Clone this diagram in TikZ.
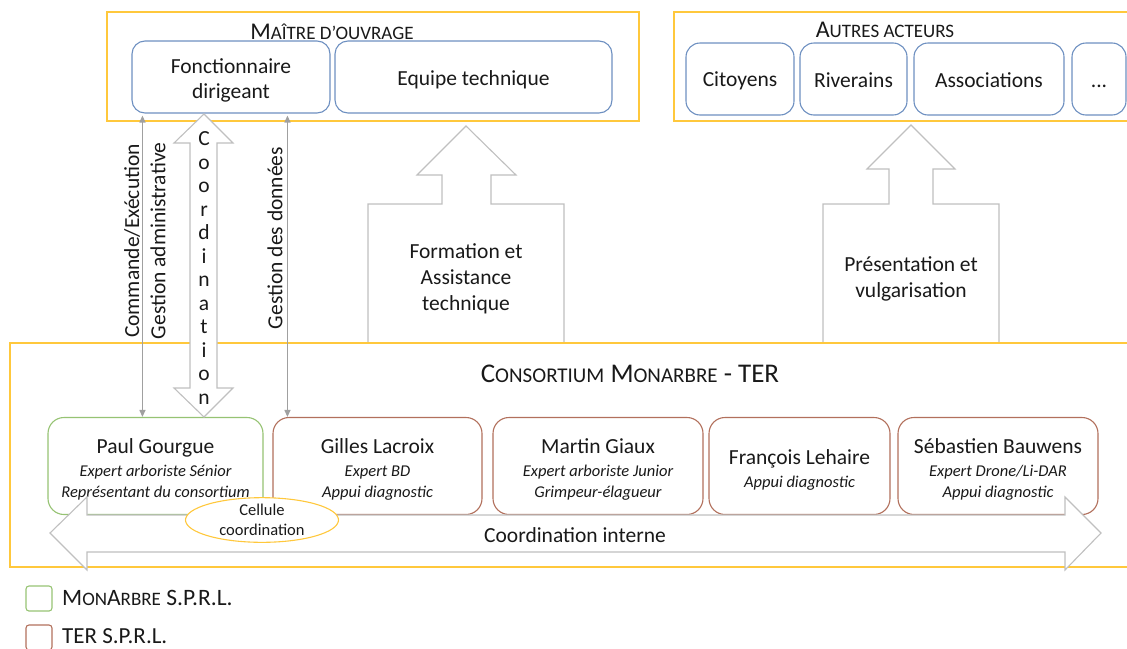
\documentclass[tikz,border=0pt]{standalone}
\usepackage{fontspec}
\setmainfont{Carlito}
\usetikzlibrary{arrows.meta,shapes.geometric}
\definecolor{frameyellow}{RGB}{255,200,60}
\definecolor{blueline}{RGB}{110,144,193}
\definecolor{agray}{RGB}{192,192,192}
\definecolor{tgray}{RGB}{160,160,160}
\definecolor{greenline}{RGB}{150,195,115}
\definecolor{brownline}{RGB}{178,112,92}
\definecolor{textc}{RGB}{25,25,25}
\newcommand\fsz[1]{\fontsize{#1}{#1}\selectfont}
\newcommand\mysc[2]{{\fontsize{#1}{#1}\selectfont #2}}
\newcommand\pname{\fontsize{21.5}{21}\selectfont\upshape\rule{0pt}{22pt}}
\begin{document}
\begin{tikzpicture}[x=1pt,y=-1pt,
  frame/.style={draw=frameyellow, line width=1.1pt},
  bbox/.style={draw=blueline, line width=1.1pt, rounded corners=13pt, fill=white, inner sep=0pt,
    align=center, font=\fontsize{21.5}{25}\selectfont, text=textc},
  pbox/.style={line width=1.1pt, rounded corners=16pt, fill=white, inner sep=0pt,
    minimum height=97pt, align=center, font=\fontsize{16.5}{21}\selectfont\itshape, text=textc},
  blockarr/.style={draw=agray, line width=1.1pt, fill=white, line join=miter},
  thinarr/.style={draw=tgray, line width=1.3pt, {Triangle[length=7pt,width=6pt]}-{Triangle[length=7pt,width=6pt]}},
  lab/.style={inner sep=0pt, text=textc, font=\fontsize{21.5}{26}\selectfont, align=center},
  title/.style={inner sep=0pt, text=textc}
]
\useasboundingbox (0,0) rectangle (1127,648);
\clip (0,0) rectangle (1127,648);

% top frames
\draw[frame] (107,12) rectangle (639,121);
\draw[frame] (674,12) rectangle (1140,121);
\node[title] (tmo) at (332,32) {\fsz{24}M\mysc{19}{AÎTRE D’OUVRAGE}};
\node[title] (tac) at (885,30) {\fsz{24}A\mysc{19}{UTRES ACTEURS}};

% top boxes
\node[bbox, minimum width=198pt, minimum height=72pt] (fonc) at (231,77) {\rule{0pt}{21pt}Fonctionnaire\\dirigeant};
\node[bbox, minimum width=277pt, minimum height=72pt] (equipe) at (473.5,77) {\rule{0pt}{20pt}Equipe technique};
\node[bbox, rounded corners=14pt, minimum width=108pt, minimum height=72pt] (cit) at (740,79) {\rule{0pt}{18pt}Citoyens};
\node[bbox, rounded corners=14pt, minimum width=107pt, minimum height=72pt] (riv) at (853.5,79) {\rule{0pt}{18pt}Riverains};
\node[bbox, rounded corners=14pt, minimum width=150pt, minimum height=72pt] (asso) at (989,79) {\rule{0pt}{18pt}Associations};
\node[bbox, rounded corners=14pt, minimum width=54pt, minimum height=72pt] (dots) at (1099,79) {\rule{0pt}{18pt}...};

% block arrows up
\draw[blockarr] (466,126) -- (516,175) -- (491,175) -- (491,204) -- (564,204) -- (564,343)
  -- (368,343) -- (368,204) -- (442,204) -- (442,175) -- (417,175) -- cycle;
\node[lab] (form) at (466,279) {Formation et\\Assistance\\technique};
\draw[blockarr] (911,125) -- (955,169) -- (933,169) -- (933,204) -- (999,204) -- (999,343)
  -- (823,343) -- (823,204) -- (889,204) -- (889,169) -- (867,169) -- cycle;
\node[lab] (pres) at (911,279) {Présentation et\\vulgarisation};

% consortium frame
\draw[frame] (10,343) rectangle (1140,567);
\node[title] (tcons) at (630,374) {\fsz{27}C\mysc{21}{ONSORTIUM} M\mysc{21}{ONARBRE} - TER};

% people boxes
\node[pbox, draw=greenline, minimum width=215pt] (paul) at (155.5,466) {{\pname Paul Gourgue}\\[2pt]Expert arboriste Sénior\\Représentant du consortium};
\node[pbox, draw=brownline, minimum width=209pt] (gilles) at (377.5,466) {{\pname Gilles Lacroix}\\[2pt]Expert BD\\Appui diagnostic};
\node[pbox, draw=brownline, minimum width=210pt] (martin) at (598,466) {{\pname Martin Giaux}\\[2pt]Expert arboriste Junior\\Grimpeur-élagueur};
\node[pbox, draw=brownline, minimum width=181pt] (francois) at (799.5,466) {{\pname François Lehaire}\\[2pt]Appui diagnostic};
\node[pbox, draw=brownline, minimum width=200pt] (seb) at (998,466) {{\pname Sébastien Bauwens}\\[2pt]Expert Drone/Li-DAR\\Appui diagnostic};

% coordination interne double arrow
\draw[blockarr] (50,533) -- (87,497) -- (87,515) -- (1065,515) -- (1065,497) -- (1101,533)
  -- (1065,570) -- (1065,552) -- (87,552) -- (87,570) -- cycle;
\node[lab] (cint) at (575,535) {Coordination interne};

% cellule coordination
\node[ellipse, draw=frameyellow, line width=1.1pt, fill=white, minimum width=153pt, minimum height=44pt,
  inner sep=0pt, align=center, text=textc, font=\fontsize{16.5}{20}\selectfont] (cell) at (262,520) {Cellule\\coordination};

% vertical coordination arrow
\draw[blockarr] (204,114) -- (233,143) -- (217,143) -- (217,388) -- (233,388) -- (204,417)
  -- (174,388) -- (190,388) -- (190,143) -- (174,143) -- cycle;
\node[inner sep=0pt, align=center, text=textc, font=\fontsize{21.5}{23.5}\selectfont] (coord) at (204,268)
  {C\\o\\o\\r\\d\\i\\n\\a\\t\\i\\o\\n};

% thin arrows
\draw[thinarr] ([xshift=11pt,yshift=-2pt]fonc.south west) -- ([xshift=95pt]paul.north west);
\draw[thinarr] ([xshift=156pt,yshift=-2pt]fonc.south west) -- ([xshift=15pt]gilles.north west);
\node[lab, rotate=90] (cmd) at (132,241) {Commande/Exécution};
\node[lab, rotate=90] (gadm) at (158,241) {Gestion administrative};
\node[lab, rotate=90] (gdon) at (275,238) {Gestion des données};

% legend
\draw[draw=greenline, line width=1.1pt, rounded corners=3pt] (26,586) rectangle (52,611);
\node[title, anchor=west] (lg1) at (62,598) {\fsz{23.5}M\mysc{19}{ON}A\mysc{19}{RBRE} S.P.R.L.};
\draw[draw=brownline, line width=1.1pt, rounded corners=3pt] (26,625) rectangle (52,650);
\node[title, anchor=west] (lg2) at (62,636) {\fsz{23}TER S.P.R.L.};
\end{tikzpicture}
\end{document}
